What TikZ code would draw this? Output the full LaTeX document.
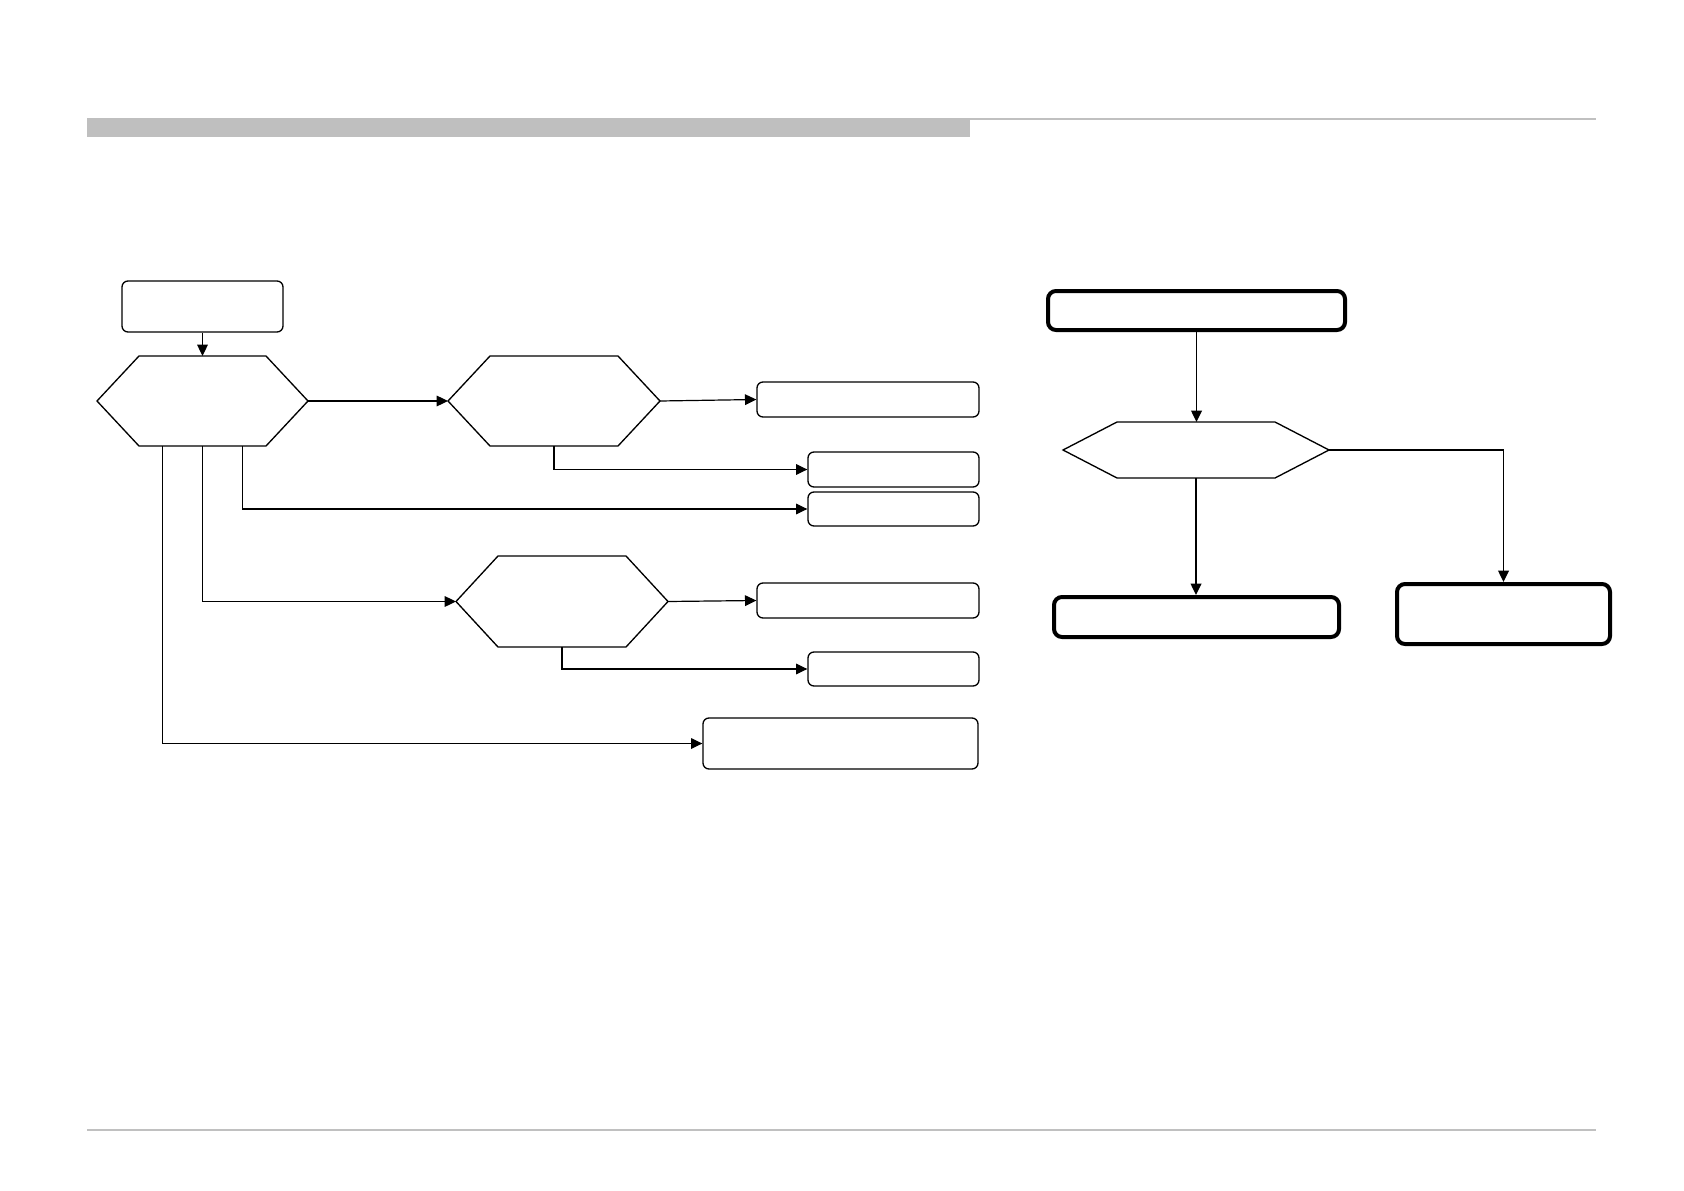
\documentclass[tikz,border=0pt]{standalone}
\usetikzlibrary{fit,calc,arrows.meta}
\definecolor{barcol}{HTML}{BFBFBF}
\definecolor{rulecol}{HTML}{C0C0C0}
\tikzset{
  thinbox/.style={draw=black, line width=1pt, rounded corners=4.5pt, inner sep=0pt, fill=white},
  thickbox/.style={draw=black, line width=3pt, rounded corners=6pt, inner sep=0pt, fill=white},
  hexspot/.style={draw=none, inner sep=0pt, outer sep=0pt},
  hexline/.style={draw=black, line width=1pt, line join=miter},
  arr/.style={draw=black, line width=0.9pt, -{Triangle[length=8.5pt,width=8pt]}},
  arrR/.style={draw=black, line width=1.1pt, -{Triangle[length=8.5pt,width=8pt]}}
}
\newcommand{\hexshape}[2]{%
  \draw[hexline] (#1.west) -- ($(#1.north west)+(#2,0)$) -- ($(#1.north east)+(-#2,0)$) -- (#1.east) -- ($(#1.south east)+(-#2,0)$) -- ($(#1.south west)+(#2,0)$) -- cycle;}
\begin{document}
\begin{tikzpicture}[x=0.75pt,y=-0.75pt]
\useasboundingbox[fill=white] (0,0) rectangle (1684,1191);
% header and footer
\fill[barcol] (87,118) rectangle (970,137);
\draw[rulecol, line width=1.1pt] (970,119) -- (1596,119);
\draw[rulecol, line width=1.1pt] (87,1130) -- (1596,1130);
% left chart
\node[thinbox, fit={(122,281)(283,332)}] (start) {};
\node[hexspot, fit={(97,356)(308,446)}] (h1) {};
\hexshape{h1}{42}
\node[hexspot, fit={(448,356)(660,446)}] (h2) {};
\hexshape{h2}{42}
\node[hexspot, fit={(456,556)(668,647)}] (h3) {};
\hexshape{h3}{42}
\node[thinbox, fit={(757,382)(979,417)}] (A) {};
\node[thinbox, fit={(808,452)(979,487)}] (B) {};
\node[thinbox, fit={(808,492)(979,526)}] (C) {};
\node[thinbox, fit={(757,583)(979,618)}] (D) {};
\node[thinbox, fit={(808,652)(979,686)}] (E) {};
\node[thinbox, fit={(703,718)(978,769)}] (F) {};
\draw[arr] (start.south) -- (start.south |- h1.north);
\draw[arr] (h1.east) -- (h2.west);
\draw[arr] (h2.east) -- (A.west);
\draw[arr] (h2.south) |- (B.west);
\draw[arr] ($(h1.south)+(40,0)$) |- (C.west);
\draw[arr] (h1.south) |- (h3.west);
\draw[arr] (h3.east) -- (D.west);
\draw[arr] (h3.south) |- (E.west);
\draw[arr] ($(h1.south)+(-40,0)$) |- (F.west);
% right chart
\node[thickbox, fit={(1048,291)(1345,330)}] (R1) {};
\node[hexspot, fit={(1063,422)(1329,478)}] (hR) {};
\hexshape{hR}{54}
\node[thickbox, fit={(1054,597)(1339,637)}] (R2) {};
\node[thickbox, fit={(1397,584)(1610,644)}] (R3) {};
\draw[arrR] (R1.south) -- (R1.south |- hR.north);
\draw[arrR] (hR.south) -- (hR.south |- R2.north);
\draw[arrR] (hR.east) -| (R3.north);
\end{tikzpicture}
\end{document}
